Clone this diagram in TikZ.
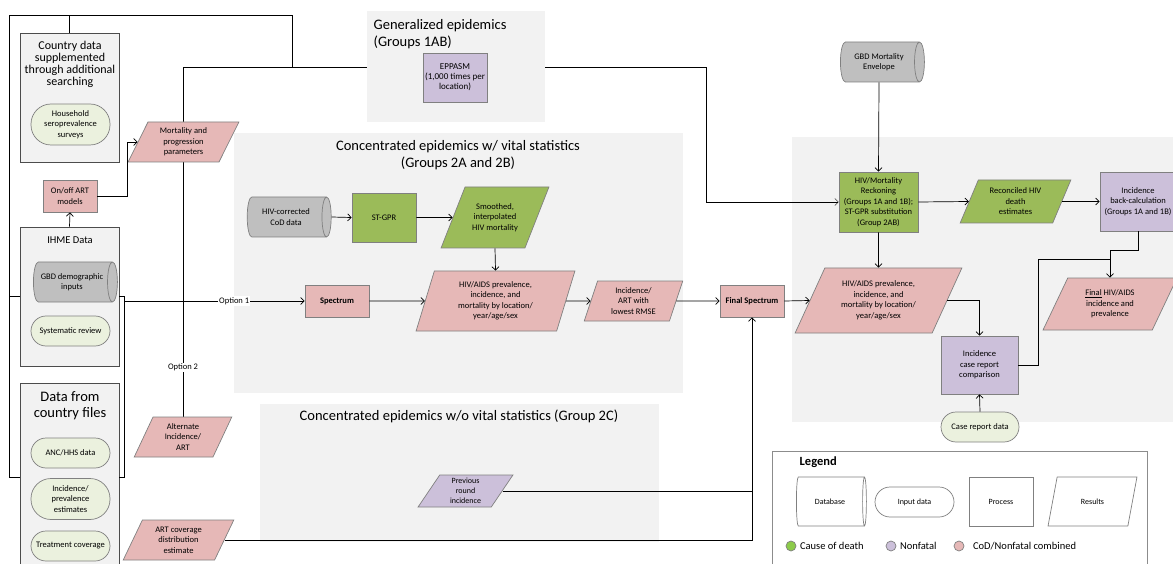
\documentclass[tikz,border=0pt]{standalone}
\usepackage{fontspec}
\setmainfont{Carlito}
\usetikzlibrary{arrows.meta,positioning,shapes.geometric,calc,backgrounds}

\definecolor{codgreen}{HTML}{9BBB59}
\definecolor{dotgreen}{HTML}{8CCB4A}
\definecolor{nfpurple}{HTML}{CCC0DA}
\definecolor{combpink}{HTML}{E6B8B7}
\definecolor{dbgray}{HTML}{BFBFBF}
\definecolor{inputgreen}{HTML}{EBF1DE}
\definecolor{groupbg}{HTML}{F2F2F2}
\definecolor{edgegray}{HTML}{808080}

\newcommand{\boxfont}{\fontsize{8.5}{10.5}\selectfont}
\newcommand{\smallboxfont}{\fontsize{8}{10}\selectfont}
\newcommand{\grouptitlefont}{\fontsize{14.5}{16.5}\selectfont}
\newcommand{\srctitlefont}{\fontsize{12}{12}\selectfont}
\newcommand{\cftitlefont}{\fontsize{14.5}{16}\selectfont}
\newcommand{\legfont}{\fontsize{10.5}{12}\selectfont}

\begin{document}
\begin{tikzpicture}[x=1pt,y=-1pt,line width=0.7pt,>={Straight Barb[length=3.5pt,width=7pt]},
  procbox/.style={rectangle,draw=edgegray,align=center,inner sep=1pt,font=\boxfont},
  resbox/.style={trapezium,trapezium left angle=#1,trapezium right angle={180-#1},trapezium stretches=true,draw=edgegray,align=center,inner sep=0pt,font=\boxfont},
  resbox/.default=65,
  dbase/.style={cylinder,aspect=0.5,draw=edgegray,fill=dbgray,align=center,inner sep=1pt,font=\boxfont},
  inbox/.style={rectangle,rounded corners=#1,draw=edgegray,fill=inputgreen,align=center,inner sep=1pt,font=\boxfont},
  inbox/.default=15pt,
  srcbox/.style={rectangle,draw=black!70,fill=groupbg,line width=0.8pt}]
\useasboundingbox (0,0) rectangle (1173,564);

% data sources on the left
\node[srcbox,minimum width=99pt,minimum height=129pt] (ctrybox) at (69.5,97.5) {};
\node[font=\srctitlefont,align=center] (ctrytitle) at (70,64) {Country data\\supplemented\\through additional\\searching};
\node[inbox=20pt,minimum width=79pt,minimum height=41pt] (hhsurvey) at (70.5,124.5) {Household\\seroprevalence\\surveys};
\node[procbox,fill=combpink,minimum width=54pt,minimum height=32pt] (onoffart) at (70,196) {On/off ART\\models};
\node[srcbox,minimum width=99pt,minimum height=139pt] (ihmebox) at (69.5,296.5) {};
\node[font=\fontsize{10.5}{12}\selectfont] (ihmetitle) at (70,240) {IHME Data};
\node[dbase,minimum height=84pt,minimum width=40pt] (gbddemo) at (72,282) {GBD demographic\\inputs};
\node[inbox,minimum width=79pt,minimum height=30pt] (sysrev) at (70.5,331) {Systematic review};
\node[srcbox,minimum width=99pt,minimum height=188pt] (cfbox) at (69.5,477) {};
\node[font=\cftitlefont,align=center] (cftitle) at (70,406) {Data from\\country files};
\node[inbox,minimum width=79pt,minimum height=30pt] (anchhs) at (70.5,453) {ANC/HHS data};
\node[inbox=20pt,minimum width=79pt,minimum height=41pt] (incprev) at (70.5,499) {Incidence/\\prevalence\\estimates};
\node[inbox,minimum width=79pt,minimum height=30pt] (treatcov) at (70.5,546) {Treatment coverage};

\node[resbox,fill=combpink,minimum width=111pt,minimum height=40pt] (mortparam) at (183.5,142) {Mortality and\\progression\\parameters};
\node[resbox=67,fill=combpink,minimum width=98pt,minimum height=40pt] (altinc) at (183,437) {Alternate\\Incidence/\\ART};
\node[resbox,fill=combpink,minimum width=111pt,minimum height=40pt] (artcov) at (178.5,540) {ART coverage\\distribution\\estimate};

% generalized epidemics
\node[font=\grouptitlefont,align=left,anchor=west] (gentitle) at (370,34) {Generalized epidemics\\(Groups 1AB)};
\node[procbox,fill=nfpurple,font=\fontsize{9}{10}\selectfont,minimum width=64pt,minimum height=49pt] (eppasm) at (455,77.5) {EPPASM\\(1,000 times per\\location)};

% concentrated epidemics with vital statistics
\node[font=\grouptitlefont,align=center] (conctitle) at (458,155) {Concentrated epidemics w/ vital statistics\\(Groups 2A and 2B)};
\node[dbase,minimum height=84pt,minimum width=40pt] (coddata) at (286,217) {HIV-corrected\\CoD data};
\node[procbox,fill=codgreen,minimum width=64pt,minimum height=49pt] (stgpr) at (384,217.5) {ST-GPR};
\node[resbox=57,fill=codgreen,minimum width=108pt,minimum height=61pt] (smoothmort) at (495,217.5) {Smoothed,\\interpolated\\HIV mortality};
\node[procbox,fill=combpink,font=\boxfont\bfseries,minimum width=64pt,minimum height=32pt] (spectrum) at (337,301) {Spectrum};
\node[resbox=74,fill=combpink,minimum width=159pt,minimum height=60pt] (hivprev) at (495.5,301) {HIV/AIDS prevalence,\\incidence, and\\mortality by location/\\year/age/sex};
\node[resbox=73,fill=combpink,minimum width=99pt,minimum height=40pt] (lowrmse) at (633.5,301) {Incidence/\\ART with\\lowest RMSE};
\node[procbox,fill=combpink,font=\boxfont\bfseries,minimum width=64pt,minimum height=32pt] (finalspec) at (752,301) {Final Spectrum};

% concentrated epidemics without vital statistics
\node[font=\grouptitlefont] (novstitle) at (459,416) {Concentrated epidemics w/o vital statistics (Group 2C)};
\node[resbox=63,fill=nfpurple,font=\smallboxfont,minimum width=95pt,minimum height=32pt] (prevround) at (465.5,491) {Previous\\round\\incidence};

% reckoning and back-calculation
\node[dbase,minimum height=84pt,minimum width=40pt] (gbdenv) at (879,62) {GBD Mortality\\Envelope};
\node[procbox,fill=codgreen,minimum width=79pt,minimum height=60pt] (reckoning) at (878.5,202) {HIV/Mortality\\Reckoning\\(Groups 1A and 1B);\\ST-GPR substitution\\(Group 2AB)};
\node[resbox,fill=codgreen,minimum width=111pt,minimum height=43pt] (reconciled) at (1015.5,201.5) {Reconciled HIV\\death\\estimates};
\node[procbox,fill=nfpurple,minimum width=76pt,minimum height=59pt] (backcalc) at (1138,201.5) {Incidence\\back-calculation\\(Groups 1A and 1B)};
\node[resbox=62,fill=combpink,minimum width=167pt,minimum height=65pt] (hivprevr) at (878.5,300.5) {HIV/AIDS prevalence,\\incidence, and\\mortality by location/\\year/age/sex};
\node[procbox,fill=nfpurple,minimum width=77pt,minimum height=58pt] (caserep) at (979.5,365) {Incidence\\case report\\comparison};
\node[inbox,minimum width=78pt,minimum height=30pt] (casedata) at (980,427) {Case report data};
\node[resbox=63,fill=combpink,minimum width=134pt,minimum height=52pt] (finalprev) at (1110,304) {\underline{Final} HIV/AIDS\\incidence and\\prevalence};

% legend
\node[draw=black!45,line width=0.8pt,minimum width=375pt,minimum height=134pt] (legendbox) at (959.5,518) {};
\node[font=\fontsize{12.5}{14}\selectfont\bfseries,anchor=west] (legtitle) at (796,462) {Legend};
\node[dbase,fill=white,font=\smallboxfont,minimum height=70pt,minimum width=49pt] (lgdb) at (830,501.5) {Database};
\node[inbox,fill=white,font=\smallboxfont,minimum width=79pt,minimum height=30pt] (lginput) at (914.5,502) {Input data};
\node[procbox,fill=white,font=\smallboxfont,minimum width=64pt,minimum height=49pt] (lgproc) at (1001,501.5) {Process};
\node[resbox=62,fill=white,font=\smallboxfont,minimum width=89pt,minimum height=49pt] (lgres) at (1092.5,501.5) {Results};
\node[circle,draw=edgegray,fill=dotgreen,minimum size=10pt,inner sep=0pt,label={[font=\legfont]right:Cause of death}] (dotcod) at (791,546) {};
\node[circle,draw=edgegray,fill=nfpurple,minimum size=10pt,inner sep=0pt,label={[font=\legfont]right:Nonfatal}] (dotnf) at (891,546) {};
\node[circle,draw=edgegray,fill=combpink,minimum size=10pt,inner sep=0pt,label={[font=\legfont,label distance=5pt]right:CoD/Nonfatal combined}] (dotcomb) at (959,546) {};

\coordinate (lcorner) at (9,15);
\coordinate (feedjoin) at (292,67);
\coordinate (feedbend) at (706,67);
\coordinate (optstart) at (124,301);
\coordinate (joinfin) at ($(finalprev.north)+(0,-18)$);

\begin{scope}[on background layer]
\fill[groupbg] (234,133) rectangle (683,393);
\fill[groupbg] (260,404) rectangle (659,542);
\fill[groupbg] (792,137) rectangle (1180,422);
\draw[->] (altinc.north) |- node[pos=0.07,fill=white,inner sep=1pt,font=\boxfont] {Option 2} (feedbend) |- (reckoning.west);
\fill[groupbg] (367,11) rectangle (545,122);
\end{scope}

\draw (cfbox.west) -| (lcorner) -| (feedjoin);
\draw (ihmebox.west) -- (ihmebox.west -| lcorner);
\draw (ctrybox.north) -- (ctrybox.north |- lcorner);
\draw (ihmebox.east) -- ++(5,0) |- (cfbox.east);
\draw[->] (optstart) -- node[pos=0.61,fill=white,inner sep=1pt,font=\boxfont] {Option 1} (spectrum.west);
\draw[->] (ihmebox.north) -- (onoffart.south);
\draw[->] (onoffart.east) -- ++(30,0) |- (mortparam.west);

\draw[->] (coddata.east) -- (stgpr.west);
\draw[->] (stgpr.east) -- (smoothmort.west);
\draw[->] (smoothmort.south) -- (hivprev.north);
\draw[->] (spectrum.east) -- (hivprev.west);
\draw[->] (hivprev.east) -- (lowrmse.west);
\draw[->] (lowrmse.east) -- (finalspec.west);
\draw[->] (artcov.east) -| (finalspec.south);
\draw (prevround.east) -- (prevround.east -| finalspec.south);
\draw[->] (finalspec.east) -- (hivprevr.west);

\draw[->] (gbdenv.south) -- (reckoning.north);
\draw[->] (reckoning.east) -- (reconciled.west);
\draw[->] (reconciled.east) -- (backcalc.west);
\draw[->] (reckoning.south) -- (hivprevr.north);
\draw[->] (hivprevr.east) -| (caserep.north);
\draw[->] (casedata.north) -- (caserep.south);
\draw[->] (backcalc.south) -- ++(0,19) -| (finalprev.north);
\draw (caserep.east) -- ++(20,0) |- (joinfin);
\end{tikzpicture}
\end{document}
